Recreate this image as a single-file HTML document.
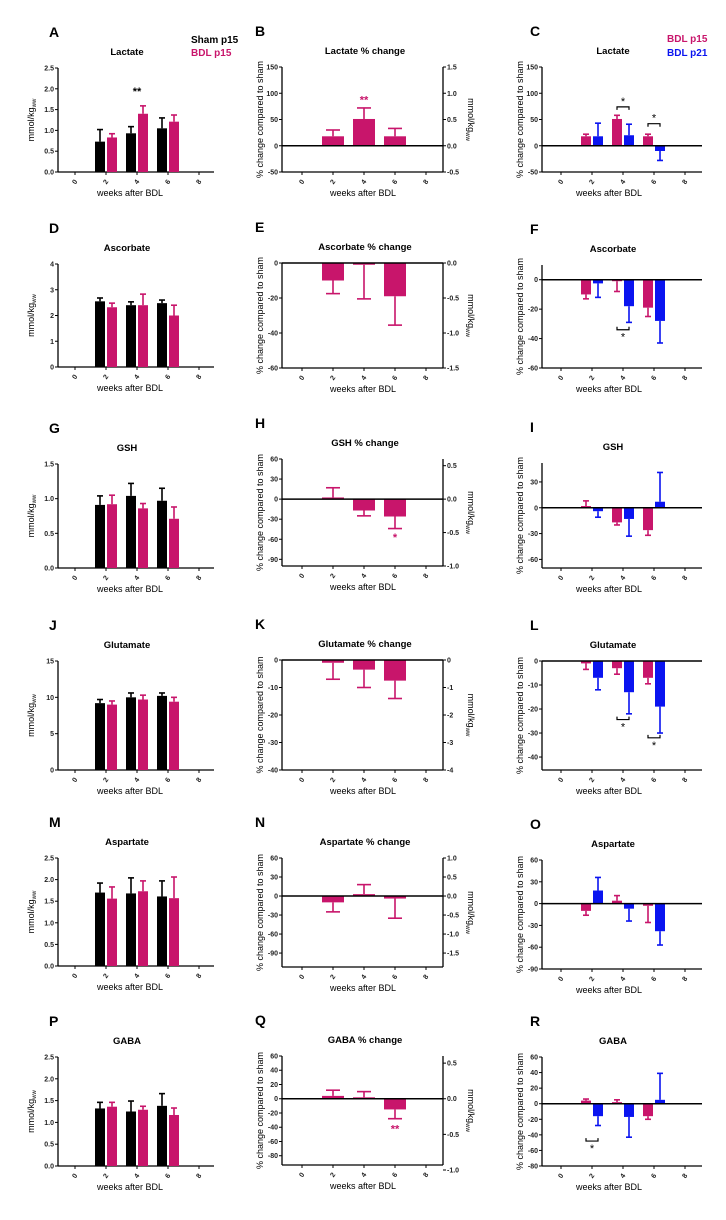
<!DOCTYPE html>
<html><head><meta charset="utf-8">
<style>
html,body{margin:0;padding:0;background:#fff;}
svg{display:block;font-family:"Liberation Sans",Arial,sans-serif;}
</style></head>
<body>
<svg id="fig" width="726" height="1220" viewBox="0 0 726 1220" xmlns="http://www.w3.org/2000/svg"></svg>
<script>
const PINK = '#c8156b', BLUE = '#0a14f0', BLACK = '#000';
// ---- data arrays ----
const weeks = [2, 4, 6];
const xTickLabels = ['0','2','4','6','8'];
const shamA = [0.73, 0.93, 1.05], shamAErr = [1.02, 1.09, 1.30];
const bdlA = [0.83, 1.40, 1.21], bdlAErr = [0.92, 1.59, 1.37];
const pctB = [18, 51, 18], pctBErr = [30, 72, 33];
const p15C = [18, 51, 18], p15CErr = [22, 58, 22];
const p21C = [18, 20, -10], p21CErr = [43, 41, -28];
const shamD = [2.55, 2.40, 2.48], shamDErr = [2.68, 2.53, 2.60];
const bdlD = [2.32, 2.40, 2.00], bdlDErr = [2.48, 2.83, 2.40];
const pctE = [-10, -1, -19], pctEErr = [-17.5, -20.5, -35.5];
const p15F = [-10, -1, -19], p15FErr = [-13, -8, -25];
const p21F = [-2.5, -18, -28], p21FErr = [-12, -29, -43];
const shamG = [0.91, 1.04, 0.97], shamGErr = [1.04, 1.22, 1.15];
const bdlG = [0.92, 0.86, 0.71], bdlGErr = [1.05, 0.93, 0.88];
const pctH = [2.5, -17, -26], pctHErr = [17, -25, -44];
const p15I = [2, -17, -26], p15IErr = [8, -20, -32];
const p21I = [-4, -13, 7], p21IErr = [-11, -33, 41];
const shamJ = [9.2, 10.0, 10.2], shamJErr = [9.7, 10.6, 10.6];
const bdlJ = [9.0, 9.7, 9.4], bdlJErr = [9.5, 10.3, 10.0];
const pctK = [-1, -3.5, -7.5], pctKErr = [-7, -10, -14];
const p15L = [-1, -3, -7], p15LErr = [-3.5, -5.5, -9.5];
const p21L = [-7, -13, -19], p21LErr = [-12, -22, -30];
const shamM = [1.70, 1.68, 1.61], shamMErr = [1.92, 2.04, 1.97];
const bdlM = [1.56, 1.73, 1.57], bdlMErr = [1.83, 1.97, 2.06];
const pctN = [-10, 3, -4], pctNErr = [-25, 18, -35];
const p15O = [-10, 4, -3], p15OErr = [-16, 11, -26];
const p21O = [18, -7, -38], p21OErr = [36, -24, -57];
const shamP = [1.32, 1.25, 1.38], shamPErr = [1.46, 1.49, 1.66];
const bdlP = [1.36, 1.29, 1.17], bdlPErr = [1.46, 1.37, 1.33];
const pctQ = [4, 2, -15], pctQErr = [12, 10, -28];
const p15R = [4, 2, -16], p15RErr = [6, 5, -20];
const p21R = [-16, -17, 5], p21RErr = [-28, -43, 39];

const svg = document.getElementById('fig');
const NS = 'http://www.w3.org/2000/svg';
function mk(tag, attrs, parent, text){
  const e = document.createElementNS(NS, tag);
  for (const k in attrs) e.setAttribute(k, attrs[k]);
  if (text !== undefined) e.textContent = text;
  (parent || svg).appendChild(e);
  return e;
}
const GEO = {
  abs: {ax: 58, xe: 214, x0: 75, k: 15.5, bw: 10, off: 6, cap: 6, ytx: 34, wx: 130, tx: 127, lx: 49},
  pct: {ax: 282, xe: 443, x0: 302, k: 15.5, bw: 22, off: 0, cap: 12, ytx: 263, wx: 363, tx: 365, lx: 255},
  cmp: {ax: 542, xe: 702, x0: 561, k: 15.5, bw: 10, off: 6, cap: 6, ytx: 523, wx: 609, tx: 613, lx: 530}
};

function panel(p){
  const g = GEO[p.type];
  const grp = mk('g', {});
  
  
  const X = w => g.x0 + w * g.k;
  const Y = v => p.bot - (v - p.ymin) / (p.ymax - p.ymin) * (p.bot - p.top);
  // letter & title
  const L = mk('text', {x: g.lx, y: p.top - 31, 'font-size': 14, 'font-weight': 'bold'}, grp, p.letter);
  
  
  const T = mk('text', {x: g.tx, y: p.top - 13, 'font-size': 9.5, 'font-weight': 'bold', 'text-anchor': 'middle'}, grp, p.title);
  
  
  // axes
  const ya = mk('line', {x1: g.ax, x2: g.ax, y1: p.top, y2: p.bot, stroke: '#000', 'stroke-width': 1.3}, grp);
  
  
  const xa = mk('line', {x1: g.ax, x2: g.xe, y1: p.bot, y2: p.bot, stroke: '#000', 'stroke-width': 1.3}, grp);
  
  
  p.ticks.forEach(t => {
    mk('line', {x1: g.ax - 3, x2: g.ax, y1: Y(t), y2: Y(t), stroke: '#000', 'stroke-width': 1}, grp);
    const tl = mk('text', {x: g.ax - 4, y: Y(t) + 2.5, 'font-size': 7, 'font-weight': 'bold', 'text-anchor': 'end', fill: '#222'}, grp, p.fmt ? t.toFixed(p.fmt) : String(t));
    
    
  });
  xTickLabels.forEach((s, i) => {
    const xx = X(i * 2);
    mk('line', {x1: xx, x2: xx, y1: p.bot, y2: p.bot + 3, stroke: '#000', 'stroke-width': 1}, grp);
    const tl = mk('text', {x: xx, y: p.bot + 12, 'font-size': 7, 'font-weight': 'bold', 'text-anchor': 'middle', transform: `rotate(-55 ${xx} ${p.bot + 10})`, fill: '#222'}, grp, s);
    
    
  });
  const wl = mk('text', {x: g.wx, y: p.bot + 24, 'font-size': 9, 'text-anchor': 'middle'}, grp, 'weeks after BDL');
  
  
  // y title
  const cy = (p.top + p.bot) / 2;
  const yt = mk('text', {x: g.ytx, y: cy, 'font-size': 9, 'text-anchor': 'middle', transform: `rotate(-90 ${g.ytx} ${cy})`}, grp);
  
  
  if (p.type === 'abs') { yt.textContent = 'mmol/kg'; mk('tspan', {'font-size': 6, dy: 2}, yt, 'ww'); }
  else yt.textContent = '% change compared to sham';
  // right axis
  if (p.right) {
    const ra = mk('line', {x1: g.xe, x2: g.xe, y1: p.top, y2: p.bot, stroke: '#000', 'stroke-width': 1.3}, grp);
    
    
    p.right.ticks.forEach(t => {
      const yy = Y(t * p.right.f);
      mk('line', {x1: g.xe, x2: g.xe + 3, y1: yy, y2: yy, stroke: '#000', 'stroke-width': 1}, grp);
      const tl = mk('text', {x: g.xe + 4, y: yy + 2.5, 'font-size': 7, 'font-weight': 'bold', fill: '#222'}, grp, p.right.fmt ? t.toFixed(p.right.fmt) : String(t));
      
      
    });
    const rx = 468;
    const rt = mk('text', {x: rx, y: cy, 'font-size': 9, 'text-anchor': 'middle', transform: `rotate(90 ${rx} ${cy})`}, grp, 'mmol/kg');
    
    
    mk('tspan', {'font-size': 6, dy: 2}, rt, 'ww');
  }
  // bars
  p.series.forEach((s, si) => {
    const n = p.series.length;
    const dx = n === 1 ? 0 : (si === 0 ? -g.off : g.off);
    s.vals.forEach((v, i) => {
      const cx = X(weeks[i]) + dx;
      const y0 = Y(Math.max(p.ymin, Math.min(p.ymax, 0)));
      const yv = Y(v);
      const e = s.err[i];
      const ey = Y(e);
      const el = mk('line', {x1: cx, x2: cx, y1: yv, y2: ey, stroke: s.c, 'stroke-width': 1.6}, grp);
      
      
      mk('line', {x1: cx - g.cap / 2 - (n === 1 ? 1 : 0), x2: cx + g.cap / 2 + (n === 1 ? 1 : 0), y1: ey, y2: ey, stroke: s.c, 'stroke-width': 1.6}, grp);
      const r = mk('rect', {x: cx - g.bw / 2, y: Math.min(yv, y0), width: g.bw, height: Math.max(1.5, Math.abs(y0 - yv)), fill: s.c}, grp);
      
      
    });
  });
  if (p.type !== 'abs') {
    const z = mk('line', {x1: g.ax, x2: g.xe, y1: Y(0), y2: Y(0), stroke: '#000', 'stroke-width': 1.5}, grp);
    
    
  }
  (p.stars || []).forEach(a => {
    const st = mk('text', {x: X(a.w) + (a.dx || 0), y: Y(a.v) + 4, 'font-size': 11, 'font-weight': 'bold', 'text-anchor': 'middle', fill: a.c}, grp, a.t);
    
    
  });
  (p.brackets || []).forEach(b => {
    const x1 = X(b.w) - g.off, x2 = X(b.w) + g.off, yy = Y(b.v);
    const d = b.up ? -3 : 3;
    const br = mk('path', {d: `M${x1},${yy + d}V${yy}H${x2}V${yy + d}`, fill: 'none', stroke: '#000', 'stroke-width': 1.2}, grp);
    
    
    const st = mk('text', {x: (x1 + x2) / 2, y: b.up ? yy + 11 : yy - 2, 'font-size': 11, 'text-anchor': 'middle'}, grp, '*');
    
    
  });
}
const sham = (v, e) => ({name: 'sham-p15', c: BLACK, vals: v, err: e});
const b15 = (v, e) => ({name: 'bdl-p15', c: PINK, vals: v, err: e});
const b21 = (v, e) => ({name: 'bdl-p21', c: BLUE, vals: v, err: e});

panel({letter: 'A', title: 'Lactate', type: 'abs', top: 68, bot: 172, ymin: 0, ymax: 2.5, ticks: [0, .5, 1, 1.5, 2, 2.5], fmt: 1,
  series: [sham(shamA, shamAErr), b15(bdlA, bdlAErr)], stars: [{w: 4, v: 1.95, t: '**', c: BLACK}]});
panel({letter: 'B', title: 'Lactate % change', type: 'pct', top: 67, bot: 172, ymin: -50, ymax: 150, ticks: [-50, 0, 50, 100, 150],
  right: {f: 100, ticks: [-0.5, 0, 0.5, 1, 1.5], fmt: 1}, series: [b15(pctB, pctBErr)], stars: [{w: 4, v: 88, t: '**', c: PINK}]});
panel({letter: 'C', title: 'Lactate', type: 'cmp', top: 67, bot: 172, ymin: -50, ymax: 150, ticks: [-50, 0, 50, 100, 150],
  series: [b15(p15C, p15CErr), b21(p21C, p21CErr)], brackets: [{w: 4, v: 74}, {w: 6, v: 42}]});
panel({letter: 'D', title: 'Ascorbate', type: 'abs', top: 264, bot: 367, ymin: 0, ymax: 4, ticks: [0, 1, 2, 3, 4],
  series: [sham(shamD, shamDErr), b15(bdlD, bdlDErr)]});
panel({letter: 'E', title: 'Ascorbate % change', type: 'pct', top: 263, bot: 368, ymin: -60, ymax: 0, ticks: [0, -20, -40, -60],
  right: {f: 40, ticks: [0, -0.5, -1, -1.5], fmt: 1}, series: [b15(pctE, pctEErr)]});
panel({letter: 'F', title: 'Ascorbate', type: 'cmp', top: 265, bot: 368, ymin: -60, ymax: 10, ticks: [0, -20, -40, -60],
  series: [b15(p15F, p15FErr), b21(p21F, p21FErr)], brackets: [{w: 4, v: -34, up: true}]});
panel({letter: 'G', title: 'GSH', type: 'abs', top: 464, bot: 568, ymin: 0, ymax: 1.5, ticks: [0, .5, 1, 1.5], fmt: 1,
  series: [sham(shamG, shamGErr), b15(bdlG, bdlGErr)]});
panel({letter: 'H', title: 'GSH % change', type: 'pct', top: 459, bot: 566, ymin: -100, ymax: 60, ticks: [60, 30, 0, -30, -60, -90],
  right: {f: 100, ticks: [0.5, 0, -0.5, -1], fmt: 1}, series: [b15(pctH, pctHErr)], stars: [{w: 6, v: -57, t: '*', c: PINK}]});
panel({letter: 'I', title: 'GSH', type: 'cmp', top: 463, bot: 568, ymin: -70, ymax: 52, ticks: [30, 0, -30, -60],
  series: [b15(p15I, p15IErr), b21(p21I, p21IErr)]});
panel({letter: 'J', title: 'Glutamate', type: 'abs', top: 661, bot: 770, ymin: 0, ymax: 15, ticks: [0, 5, 10, 15],
  series: [sham(shamJ, shamJErr), b15(bdlJ, bdlJErr)]});
panel({letter: 'K', title: 'Glutamate % change', type: 'pct', top: 660, bot: 770, ymin: -40, ymax: 0, ticks: [0, -10, -20, -30, -40],
  right: {f: 10, ticks: [0, -1, -2, -3, -4]}, series: [b15(pctK, pctKErr)]});
panel({letter: 'L', title: 'Glutamate', type: 'cmp', top: 661, bot: 770, ymin: -45.4, ymax: 0, ticks: [0, -10, -20, -30, -40],
  series: [b15(p15L, p15LErr), b21(p21L, p21LErr)], brackets: [{w: 4, v: -24.4, up: true}, {w: 6, v: -32, up: true}]});
panel({letter: 'M', title: 'Aspartate', type: 'abs', top: 858, bot: 966, ymin: 0, ymax: 2.5, ticks: [0, .5, 1, 1.5, 2, 2.5], fmt: 1,
  series: [sham(shamM, shamMErr), b15(bdlM, bdlMErr)]});
panel({letter: 'N', title: 'Aspartate % change', type: 'pct', top: 858, bot: 967, ymin: -112, ymax: 60, ticks: [60, 30, 0, -30, -60, -90],
  right: {f: 60, ticks: [1, 0.5, 0, -0.5, -1, -1.5], fmt: 1}, series: [b15(pctN, pctNErr)]});
panel({letter: 'O', title: 'Aspartate', type: 'cmp', top: 860, bot: 969, ymin: -90, ymax: 60, ticks: [60, 30, 0, -30, -60, -90],
  series: [b15(p15O, p15OErr), b21(p21O, p21OErr)]});
panel({letter: 'P', title: 'GABA', type: 'abs', top: 1057, bot: 1166, ymin: 0, ymax: 2.5, ticks: [0, .5, 1, 1.5, 2, 2.5], fmt: 1,
  series: [sham(shamP, shamPErr), b15(bdlP, bdlPErr)]});
panel({letter: 'Q', title: 'GABA % change', type: 'pct', top: 1056, bot: 1165, ymin: -93, ymax: 60, ticks: [60, 40, 20, 0, -20, -40, -60, -80],
  right: {f: 100, ticks: [0.5, 0, -0.5, -1], fmt: 1}, series: [b15(pctQ, pctQErr)], stars: [{w: 6, v: -42, t: '**', c: PINK}]});
panel({letter: 'R', title: 'GABA', type: 'cmp', top: 1057, bot: 1166, ymin: -80, ymax: 60, ticks: [60, 40, 20, 0, -20, -40, -60, -80],
  series: [b15(p15R, p15RErr), b21(p21R, p21RErr)], brackets: [{w: 2, v: -48, up: true}]});

// legends
function legend(x, y, text, color){
  const t = mk('text', {x: x, y: y, 'font-size': 10, 'font-weight': 'bold', fill: color}, svg, text);
  
  
}
legend(191, 43, 'Sham p15', BLACK);
legend(191, 56, 'BDL p15', PINK);
legend(667, 42, 'BDL p15', PINK);
legend(667, 56, 'BDL p21', BLUE);
</script>
</body></html>
